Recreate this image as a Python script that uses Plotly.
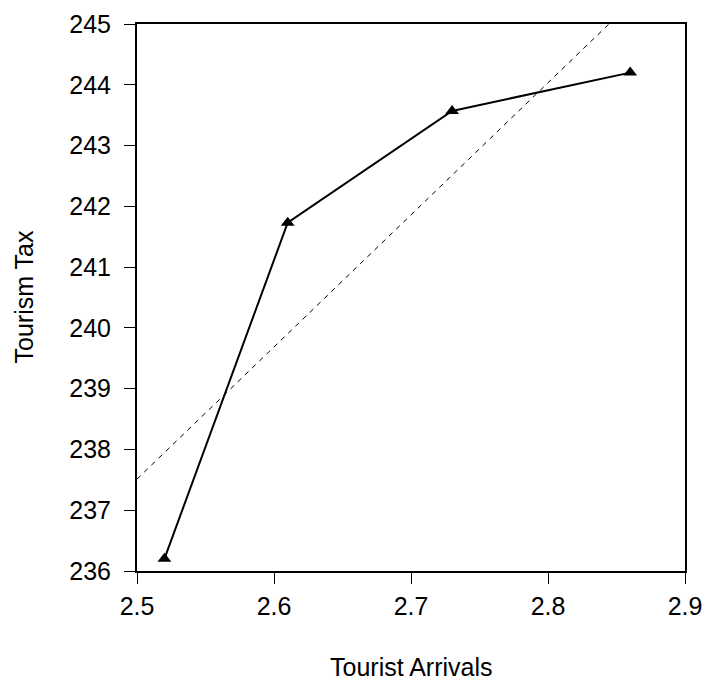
import numpy as np
import plotly.graph_objects as go

# Data
arrivals = [2.52, 2.61, 2.73, 2.86]
tourism_tax = [236.2, 241.73, 243.57, 244.2]

x_ticks = [2.5, 2.6, 2.7, 2.8, 2.9]
y_ticks = [236, 237, 238, 239, 240, 241, 242, 243, 244, 245]

# OLS fit line (dashed) derived from the data
slope, intercept = np.polyfit(arrivals, tourism_tax, 1)
fit_x = [2.5, 2.9]
fit_y = [slope * v + intercept for v in fit_x]

FONT = "Liberation Sans, Arial, sans-serif"
FS = 25

fig = go.Figure()
fig.add_trace(go.Scatter(
    x=fit_x, y=fit_y, mode="lines",
    line=dict(color="black", width=1, dash="5px,5px"),
    showlegend=False, hoverinfo="skip",
))
fig.add_trace(go.Scatter(
    x=arrivals, y=tourism_tax, mode="lines+markers",
    line=dict(color="black", width=2),
    marker=dict(symbol="triangle-up", size=12, color="black"),
    showlegend=False,
))

fig.update_layout(
    width=705, height=680,
    margin=dict(l=137, r=20, t=24, b=109, autoexpand=False),
    plot_bgcolor="white", paper_bgcolor="white",
    font=dict(family=FONT, size=FS, color="black"),
    xaxis=dict(
        range=[2.5, 2.9], tickvals=x_ticks, ticktext=[f"{v:.1f}" for v in x_ticks],
        showgrid=False, zeroline=False, automargin=False,
        showline=True, linecolor="black", linewidth=2, mirror=True,
        ticks="outside", ticklen=11, tickwidth=1, tickcolor="black",
        tickfont=dict(family=FONT, size=FS, color="black"),
        ticklabelstandoff=1,
    ),
    yaxis=dict(
        range=[236, 245], tickvals=y_ticks, ticktext=[str(v) for v in y_ticks],
        showgrid=False, zeroline=False, automargin=False,
        showline=True, linecolor="black", linewidth=2, mirror=True,
        ticks="outside", ticklen=11, tickwidth=1, tickcolor="black",
        tickfont=dict(family=FONT, size=FS, color="black"),
        ticklabelstandoff=8,
    ),
    annotations=[
        dict(text="Tourist Arrivals", xref="paper", yref="paper", x=0.5, y=0,
             xanchor="center", yanchor="middle", yshift=-96, showarrow=False,
             font=dict(family=FONT, size=FS, color="black")),
        dict(text="Tourism Tax", xref="paper", yref="paper", x=0, y=0.5,
             xanchor="center", yanchor="middle", xshift=-114, textangle=-90,
             showarrow=False, font=dict(family=FONT, size=FS, color="black")),
    ],
)

fig.write_html("out.html")
